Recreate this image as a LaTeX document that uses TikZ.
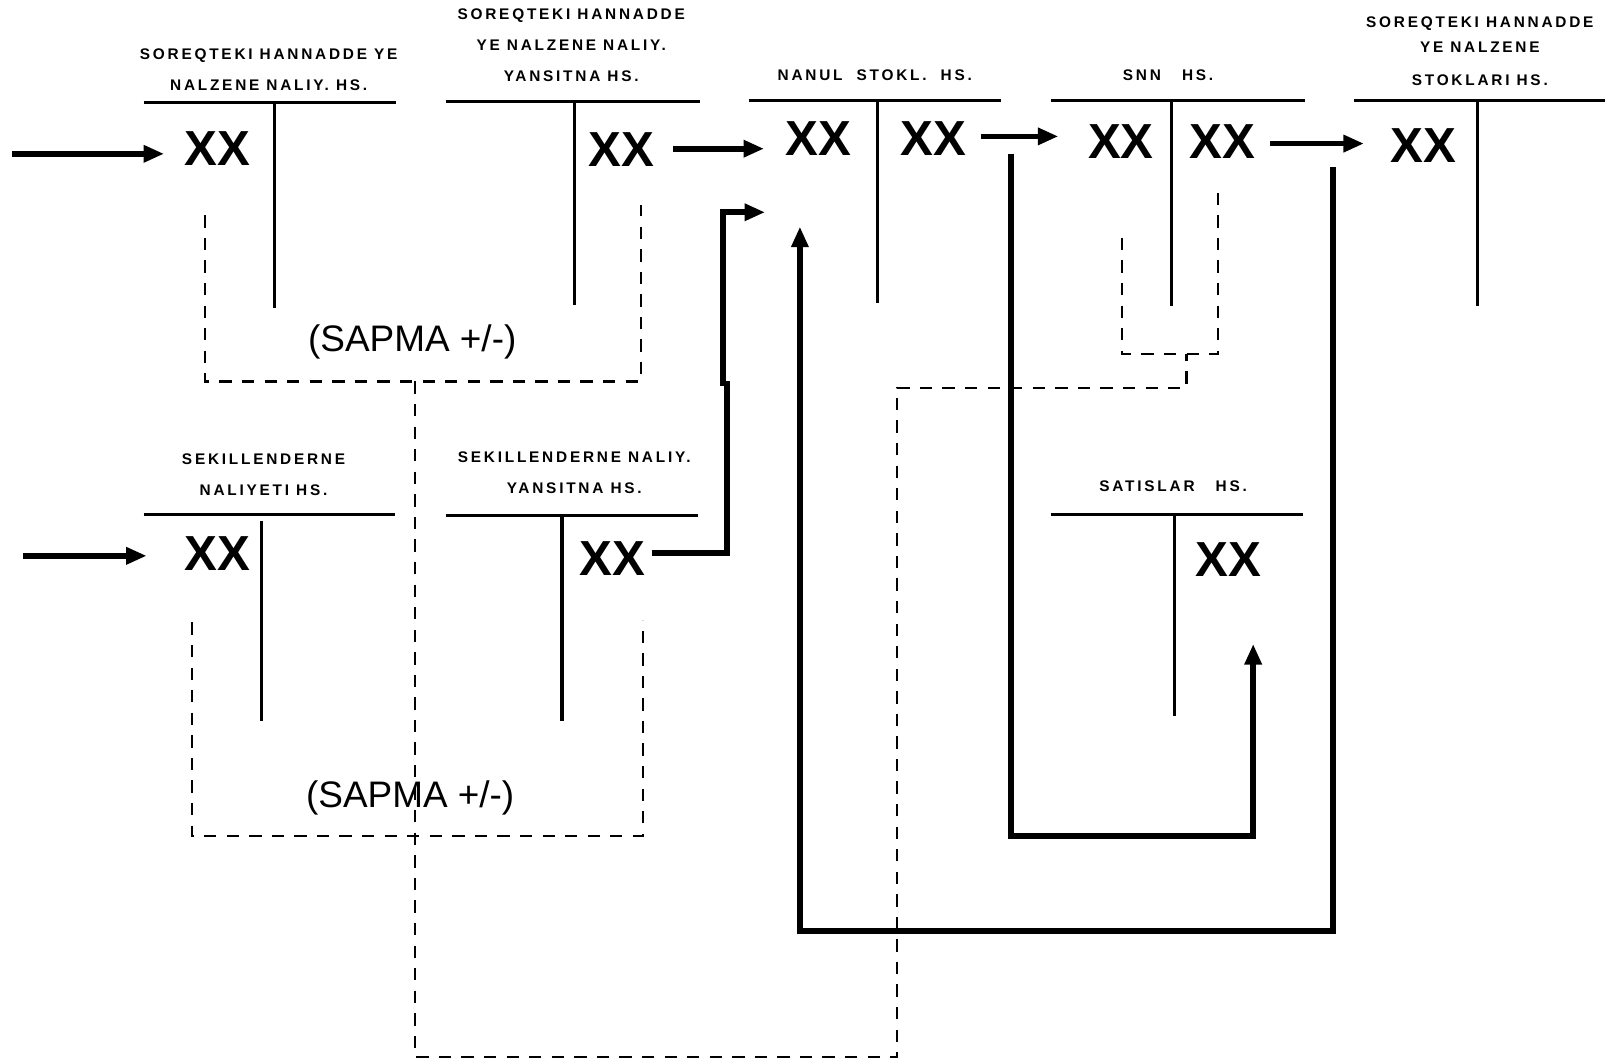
\documentclass[tikz,border=0pt]{standalone}
\usepackage{fontspec}
\setsansfont{Liberation Sans}
\usetikzlibrary{arrows.meta}
\begin{document}
\begin{tikzpicture}[x=0.5pt,y=-0.5pt,
 tline/.style={line width=1.6pt},
 flow/.style={line width=2.8pt,-{Triangle[length=10pt,width=8pt]}},
 dsh/.style={line width=1.1pt,dash pattern=on 6pt off 5pt},
 lbl/.style={font=\sffamily\bfseries\fontsize{7.5}{15}\selectfont\addfontfeature{LetterSpace=18}, align=center, inner sep=0pt},
 xx/.style={font=\sffamily\bfseries\fontsize{24}{24}\selectfont, inner sep=0pt},
 sap/.style={font=\sffamily\fontsize{18}{18}\selectfont, inner sep=0pt}
]
\useasboundingbox (0,0) rectangle (1568,1037);
\fill[white] (0,0) rectangle (1568,1037);

% ---------- labels
\node[lbl] (l1) at (262,68) {SOREQTEKI HANNADDE YE\\NALZENE NALIY. HS.};
\node[lbl] (l2) at (557,44) {SOREQTEKI HANNADDE\\YE NALZENE NALIY.\\YANSITNA HS.};
\node[lbl] (l3) at (853,73) {NANUL\ \ STOKL.\ \ HS.};
\node[lbl] (l4) at (1139,73) {SNN\ \ \ HS.};
\node[lbl] (l5) at (1443,50) {SOREQTEKI HANNADDE\\[-3pt]YE NALZENE\\[1pt]STOKLARI HS.};
\node[lbl] (l6) at (257,463) {SEKILLENDERNE\\NALIYETI HS.};
\node[lbl] (l7) at (560,461) {SEKILLENDERNE NALIY.\\YANSITNA HS.};
\node[lbl] (l8) at (1144,474) {SATISLAR\ \ \ HS.};

% ---------- T accounts
\draw[tline] (140,100) -- (386,100) (268,100) -- (268,300);
\draw[tline] (435,99) -- (683,99) (560,99) -- (560,297);
\draw[tline] (730,98) -- (976,98) (856,98) -- (856,295);
\draw[tline] (1025,98) -- (1273,98) (1142,98) -- (1142,298);
\draw[tline] (1320,98) -- (1565,98) (1441,98) -- (1441,298);
\draw[tline] (140,502) -- (385,502) (255,508) -- (255,703);
\draw[tline] (435,503) -- (681,503) (548,503) -- (548,703);
\draw[tline] (1025,502) -- (1271,502) (1145,502) -- (1145,698);

% ---------- amounts
\node[xx] (x1) at (212,145) {XX};
\node[xx] (x2) at (606,146) {XX};
\node[xx] (x3a) at (798,135) {XX};
\node[xx] (x3b) at (910,135) {XX};
\node[xx] (x4a) at (1093,138) {XX};
\node[xx] (x4b) at (1192,138) {XX};
\node[xx] (x5) at (1388,142) {XX};
\node[xx] (x6) at (212,540) {XX};
\node[xx] (x7) at (597,545) {XX};
\node[xx] (x8) at (1198,546) {XX};

\node[sap] (s1) at (402,333) {(SAPMA +/-)};
\node[sap] (s2) at (400,778) {(SAPMA +/-)};

% ---------- coordinates for free ends
\coordinate (in1) at (12,150);
\coordinate (in1e) at (160,150);
\coordinate (in6) at (22,542);
\coordinate (in6e) at (143,542);
\coordinate (t3) at (745,145);
\coordinate (t4) at (1032,133);
\coordinate (t5) at (1330,140);
\coordinate (t3b) at (746,207);
\coordinate (t3c) at (780,221);
\coordinate (t8) at (1222,628);

% ---------- flows
\draw[flow] (in1) -- (in1e);
\draw[flow] (in6) -- (in6e);
\draw[flow] (x2.east |- t3) ++(18,0) -- (t3);
\draw[flow] (x3b.east |- t4) ++(14,0) -- (t4);
\draw[flow] (x4b.east |- t5) ++(14,0) -- (t5);
\draw[flow] (x7.east) ++(6,-6) coordinate (x7o) -- (709,539) -- (709,374) -- (705,374) -- (705,207) -- (t3b);
\draw[flow] (986,150) -- (986,815) -- (1222,815) -- (t8);
\draw[flow] (1300,163) -- (1300,908) -- (780,908) -- (t3c);

% ---------- dashed variance lines
\draw[dsh] (200,210) -- (200,372) -- (625,372) -- (625,200);
\draw[dsh] (187,607) -- (187,815) -- (627,815) -- (627,605);
\draw[dsh] (1094,232) -- (1094,345) -- (1188,345) -- (1188,188);
\draw[dsh] (405,372) -- (405,1031) -- (875,1031) -- (875,378) -- (1157,378) -- (1157,345);
\end{tikzpicture}
\end{document}
